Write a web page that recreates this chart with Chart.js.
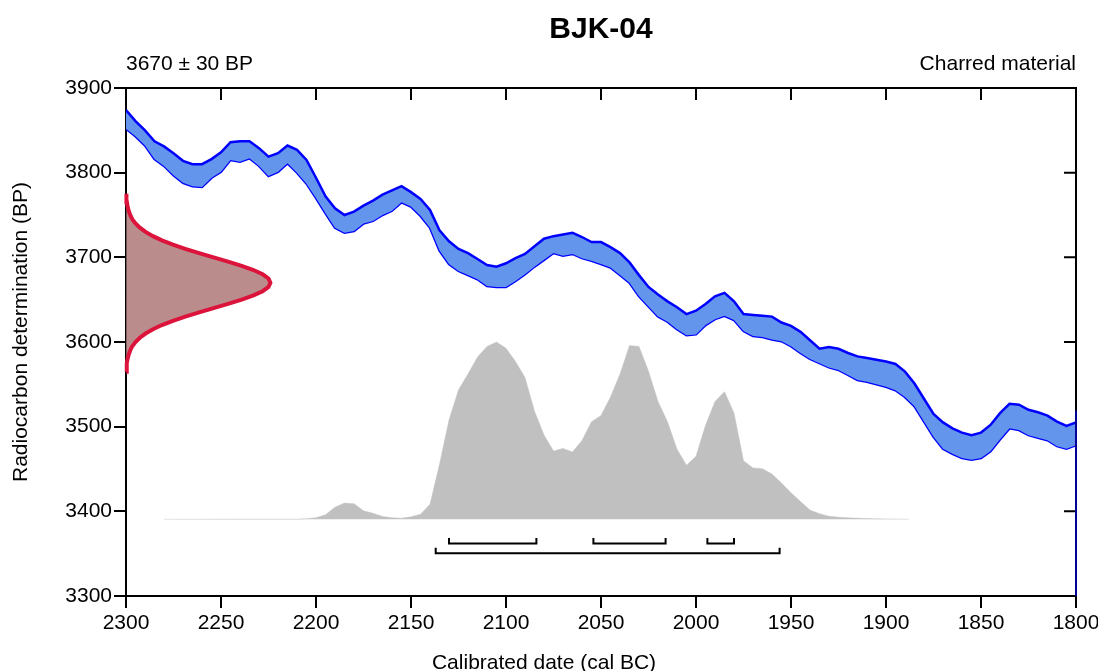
<!DOCTYPE html>
<html>
<head>
<meta charset="utf-8">
<script src="https://cdn.jsdelivr.net/npm/chart.js@4/dist/chart.umd.min.js"></script>
<style>
  html, body { margin: 0; padding: 0; background: #fff; }
  #wrap { width: 1098px; height: 671px; }
</style>
</head>
<body>
<div id="wrap"><canvas id="calChart"></canvas></div>
<script>
// calibration curve (IntCal), 5-year steps
const calYears = [
  2300, 2295, 2290, 2285, 2280, 2275, 2270, 2265, 2260, 2255,
  2250, 2245, 2240, 2235, 2230, 2225, 2220, 2215, 2210, 2205,
  2200, 2195, 2190, 2185, 2180, 2175, 2170, 2165, 2160, 2155,
  2150, 2145, 2140, 2135, 2130, 2125, 2120, 2115, 2110, 2105,
  2100, 2095, 2090, 2085, 2080, 2075, 2070, 2065, 2060, 2055,
  2050, 2045, 2040, 2035, 2030, 2025, 2020, 2015, 2010, 2005,
  2000, 1995, 1990, 1985, 1980, 1975, 1970, 1965, 1960, 1955,
  1950, 1945, 1940, 1935, 1930, 1925, 1920, 1915, 1910, 1905,
  1900, 1895, 1890, 1885, 1880, 1875, 1870, 1865, 1860, 1855,
  1850, 1845, 1840, 1835, 1830, 1825, 1820, 1815, 1810, 1805,
  1800
];
const calUpper = [
  3874, 3861, 3850, 3837, 3831, 3823, 3814, 3810, 3810, 3816,
  3824, 3836, 3837, 3837, 3829, 3819, 3823, 3832, 3827, 3815,
  3794, 3772, 3758, 3750, 3754, 3761, 3767, 3774, 3779, 3784,
  3777, 3769, 3756, 3732, 3719, 3710, 3705, 3698, 3691, 3689,
  3693, 3699, 3704, 3713, 3722, 3725, 3727, 3729, 3724, 3718,
  3718, 3712, 3705, 3694, 3679, 3665, 3656, 3648, 3641, 3633,
  3637, 3645, 3654, 3658, 3648, 3633, 3632, 3631, 3630, 3623,
  3619, 3612, 3602, 3592, 3594, 3592, 3587, 3583, 3581, 3579,
  3577, 3574, 3565, 3551, 3533, 3515, 3505, 3498, 3493, 3490,
  3493, 3502, 3516, 3527, 3526, 3520, 3517, 3513, 3506, 3501,
  3505
];
const calLower = [
  3852, 3843, 3832, 3816, 3808, 3797, 3788, 3784, 3783, 3794,
  3801, 3815, 3813, 3817, 3808, 3796, 3801, 3811, 3800, 3787,
  3770, 3752, 3735, 3729, 3731, 3740, 3743, 3750, 3755, 3765,
  3760, 3749, 3735, 3708, 3692, 3684, 3679, 3674, 3666, 3665,
  3665, 3672, 3680, 3689, 3697, 3705, 3702, 3704, 3699, 3696,
  3692, 3688, 3679, 3670, 3654, 3642, 3630, 3624, 3615, 3608,
  3609, 3620, 3627, 3631, 3626, 3613, 3607, 3606, 3603, 3601,
  3595, 3587, 3580, 3575, 3570, 3567, 3561, 3555, 3553, 3550,
  3547, 3543, 3535, 3524, 3506, 3488, 3474, 3468, 3463, 3461,
  3463, 3471, 3485, 3498, 3496, 3490, 3487, 3484, 3477, 3474,
  3478
];

// measured date 3670 +/- 30 BP, drawn against the y axis
const measBP = [
  3565, 3570, 3575, 3580, 3585, 3590, 3595, 3600, 3605, 3610,
  3615, 3620, 3625, 3630, 3635, 3640, 3645, 3650, 3655, 3660,
  3665, 3670, 3675, 3680, 3685, 3690, 3695, 3700, 3705, 3710,
  3715, 3720, 3725, 3730, 3735, 3740, 3745, 3750, 3755, 3760,
  3765, 3770, 3775
];
const measWidth = [
  0.16, 0.3, 0.5, 0.84, 1.4, 2.2, 3.3, 5.0, 7.3, 10.3,
  14.2, 18.9, 24.7, 31.2, 38.5, 46.1, 53.7, 60.9, 67.1, 71.9,
  75.0, 76.0, 75.0, 71.9, 67.1, 60.9, 53.7, 46.1, 38.5, 31.2,
  24.7, 18.9, 14.2, 10.3, 7.3, 5.0, 3.3, 2.2, 1.4, 0.84,
  0.5, 0.3, 0.16
];

// calibrated probability (relative)
const probYears = [
  2280, 2240, 2210, 2205, 2200, 2195, 2190, 2185, 2180, 2175,
  2170, 2165, 2160, 2155, 2150, 2145, 2140, 2135, 2130, 2125,
  2120, 2115, 2110, 2105, 2100, 2095, 2090, 2085, 2080, 2075,
  2070, 2065, 2060, 2055, 2050, 2045, 2040, 2035, 2030, 2025,
  2020, 2015, 2010, 2005, 2000, 1995, 1990, 1985, 1980, 1975,
  1970, 1965, 1960, 1955, 1950, 1945, 1940, 1935, 1930, 1925,
  1920, 1910, 1900, 1888
];
const probValues = [
  0, 0.001, 0.001, 0.003, 0.009, 0.026, 0.068, 0.092, 0.088, 0.048,
  0.034, 0.016, 0.009, 0.006, 0.014, 0.028, 0.085, 0.31, 0.56, 0.73,
  0.82, 0.915, 0.975, 1.0, 0.965, 0.89, 0.80, 0.61, 0.475, 0.385,
  0.40, 0.38, 0.445, 0.55, 0.585, 0.69, 0.82, 0.98, 0.975, 0.835,
  0.665, 0.55, 0.395, 0.305, 0.355, 0.53, 0.665, 0.72, 0.60, 0.33,
  0.29, 0.285, 0.255, 0.205, 0.15, 0.10, 0.052, 0.031, 0.017, 0.012,
  0.008, 0.004, 0.002, 0
];

// ranges
const range68 = [[2130, 2084], [2054, 2016], [1994, 1980]];
const range95 = [[2137, 1956]];

const sampleName = 'BJK-04';
const sampleDate = '3670 ± 30 BP';
const sampleMaterial = 'Charred material';
const xTitle = 'Calibrated date (cal BC)';
const yTitle = 'Radiocarbon determination (BP)';

// where things sit on the BP axis
const probBase = 3390.6, probHeight = 209.4;
const row68 = 3362, row95 = 3350.5, bracketTip = 6.5;

const FONT = '"Liberation Sans", Arial, Helvetica, sans-serif';
Chart.defaults.font.family = FONT;
Chart.defaults.color = '#000';

function bracket(r, level) {
  return {
    type: 'line',
    data: [
      {x: r[0], y: level + bracketTip}, {x: r[0], y: level},
      {x: r[1], y: level}, {x: r[1], y: level + bracketTip}
    ],
    borderColor: '#000',
    borderWidth: 2,
    pointRadius: 0,
    fill: false,
    order: 0
  };
}

const frame = {
  id: 'frame',
  beforeDatasetsDraw(chart) {
    const ctx = chart.ctx, a = chart.chartArea;
    const xs = chart.scales.x, ys = chart.scales.y;
    ctx.save();
    ctx.strokeStyle = '#000';
    ctx.lineWidth = 2;
    ctx.beginPath();
    ctx.moveTo(a.left, a.top);
    ctx.lineTo(a.right, a.top);
    ctx.lineTo(a.right, a.bottom);
    // ticks pointing inwards on top and right
    xs.ticks.forEach(t => {
      const px = xs.getPixelForValue(t.value);
      ctx.moveTo(px, a.top);
      ctx.lineTo(px, a.top + 12);
    });
    ys.ticks.forEach(t => {
      const py = ys.getPixelForValue(t.value);
      ctx.moveTo(a.right, py);
      ctx.lineTo(a.right - 12, py);
    });
    ctx.stroke();
    ctx.restore();
  },
  afterDraw(chart) {
    const ctx = chart.ctx, a = chart.chartArea;
    ctx.save();
    ctx.fillStyle = '#000';
    ctx.textBaseline = 'alphabetic';
    ctx.font = 'bold 30px ' + FONT;
    ctx.textAlign = 'center';
    ctx.fillText(sampleName, (a.left + a.right) / 2, 38);
    ctx.font = '21px ' + FONT;
    ctx.textAlign = 'left';
    ctx.fillText(sampleDate, a.left, 70);
    ctx.textAlign = 'right';
    ctx.fillText(sampleMaterial, a.right, 70);
    // axis titles
    ctx.textAlign = 'center';
    ctx.fillText(xTitle, 544, 669);
    ctx.translate(27, 332);
    ctx.rotate(-Math.PI / 2);
    ctx.fillText(yTitle, 0, 0);
    ctx.restore();
  }
};

const ctx = document.getElementById('calChart').getContext('2d');
const calChart = new Chart(ctx, {
  type: 'line',
  data: {
    datasets: [
      bracket(range68[0], row68),
      bracket(range68[1], row68),
      bracket(range68[2], row68),
      bracket(range95[0], row95),
      {
        // measured date
        data: measBP.map((bp, i) => ({x: 2300 - measWidth[i], y: bp})),
        borderColor: '#DC143C',
        backgroundColor: 'rgb(186,140,140)',
        borderWidth: 4,
        pointRadius: 0,
        fill: 'shape',
        clip: false,
        order: 1
      },
      {
        // curve edge off the right side
        data: [{x: 1800, y: 3519}, {x: 1800, y: 3300}],
        borderColor: 'rgb(0,0,150)',
        borderWidth: 2,
        pointRadius: 0,
        fill: false,
        clip: false,
        order: 2
      },
      {
        data: calYears.map((yr, i) => ({x: yr, y: calUpper[i]})),
        borderColor: '#0000FF',
        backgroundColor: '#6495ED',
        borderWidth: 2.5,
        pointRadius: 0,
        fill: '+1',
        order: 3
      },
      {
        data: calYears.map((yr, i) => ({x: yr, y: calLower[i]})),
        borderColor: '#0000FF',
        borderWidth: 2.5,
        pointRadius: 0,
        fill: false,
        order: 4
      },
      {
        // calibrated distribution
        data: probYears.map((yr, i) => ({x: yr, y: probBase + probValues[i] * probHeight})),
        borderColor: 'rgba(192,192,192,0.45)',
        backgroundColor: '#C0C0C0',
        borderWidth: 1,
        pointRadius: 0,
        fill: {value: probBase},
        order: 5
      }
    ]
  },
  options: {
    responsive: true,
    maintainAspectRatio: false,
    animation: false,
    layout: { padding: { top: 88, right: 22, bottom: 0, left: 0 } },
    plugins: {
      legend: { display: false },
      tooltip: { enabled: false }
    },
    elements: { line: { tension: 0 } },
    scales: {
      x: {
        type: 'linear',
        reverse: true,
        min: 1800,
        max: 2300,
        afterFit: function(scale) {
          scale.height = 75;
          scale.paddingLeft = 0;
          scale.paddingRight = 0;
        },
        ticks: {
          stepSize: 50,
          padding: 3,
          maxRotation: 0,
          font: { size: 21 },
          callback: v => String(v)
        },
        grid: {
          drawOnChartArea: false,
          drawTicks: true,
          tickLength: 12,
          color: '#000',
          lineWidth: 2
        },
        border: { display: true, color: '#000', width: 2 }
      },
      y: {
        min: 3300,
        max: 3900,
        afterFit: function(scale) { scale.width = 126; },
        ticks: {
          stepSize: 100,
          padding: 2,
          font: { size: 21 },
          callback: v => String(v)
        },
        grid: {
          drawOnChartArea: false,
          drawTicks: true,
          tickLength: 12,
          color: '#000',
          lineWidth: 2
        },
        border: { display: true, color: '#000', width: 2 }
      }
    }
  },
  plugins: [frame]
});
</script>
</body>
</html>
